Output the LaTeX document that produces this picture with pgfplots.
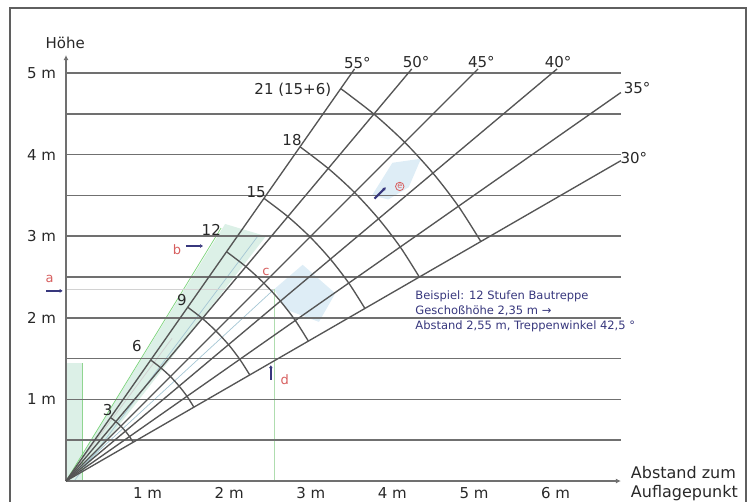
\documentclass[border=0pt]{standalone}
\usepackage{pgfplots}
\pgfplotsset{compat=1.18}
\usepackage{fontspec}
\setmainfont{DejaVu Sans}
\usetikzlibrary{arrows.meta}
\definecolor{gridc}{RGB}{112,112,112}
\definecolor{rayc}{RGB}{85,85,85}
\definecolor{txt}{RGB}{40,40,40}
\definecolor{navy}{RGB}{55,55,125}
\definecolor{redl}{RGB}{215,95,95}
\definecolor{greenl}{RGB}{220,240,231}
\definecolor{bluel}{RGB}{222,237,246}
\definecolor{framec}{RGB}{95,95,95}
\begin{document}
\begin{tikzpicture}
\begin{axis}[scale only axis, width=752pt, height=502pt,
  xmin=-0.809, xmax=8.407, ymin=-0.257, ymax=5.895,
  axis lines=none, clip=false]
\coordinate (SW) at (rel axis cs:0,0);
\coordinate (NE) at (rel axis cs:1,1);
% frame
\addplot[framec, line width=1.2pt] coordinates {(-0.686,-0.4) (-0.686,5.797) (8.333,5.797) (8.333,-0.4)};
% light shadings
\addplot[fill=greenl, draw=none] coordinates {(0,0) (1.95,3.15) (2.45,3.0) (0.12,0)} -- cycle;
\addplot[fill=greenl, draw=none] coordinates {(0,0) (0,1.45) (0.2,1.45) (0.2,0)} -- cycle;
\addplot[fill=bluel, draw=none] coordinates {(2.55,2.35) (2.9,2.65) (3.3,2.3) (3.1,1.95) (2.7,2.1)} -- cycle;
\addplot[fill=bluel, draw=none] coordinates {(3.75,3.5) (4.0,3.9) (4.35,3.95) (4.2,3.6) (3.95,3.45)} -- cycle;
% faint helper lines
\addplot[green!45!gray!60, line width=0.8pt] coordinates {(0.2,0) (0.2,1.45)};
\addplot[green!50!gray!70, line width=0.7pt] coordinates {(0,0) (1.9,3.1)};
\addplot[cyan!40!gray!60, line width=0.7pt] coordinates {(0.1,0) (2.35,3.0)};
\addplot[cyan!40!gray!60, line width=0.7pt] coordinates {(0,0) (2.55,2.35)};
\addplot[gray!35, line width=0.8pt] coordinates {(0,0) (1.3,1.75)};
\addplot[green!40!gray!45, line width=0.8pt] coordinates {(2.55,0) (2.55,2.35)};
\addplot[gray!35, line width=0.8pt] coordinates {(0,2.35) (2.55,2.35)};
% horizontal lines
\addplot[gridc, line width=1.5pt] coordinates {(0,0.5) (6.8,0.5)};
\addplot[gridc, line width=1.5pt] coordinates {(0,1.0) (6.8,1.0)};
\addplot[gridc, line width=1.5pt] coordinates {(0,1.5) (6.8,1.5)};
\addplot[gridc, line width=1.5pt] coordinates {(0,2.0) (6.8,2.0)};
\addplot[gridc, line width=1.5pt] coordinates {(0,2.5) (6.8,2.5)};
\addplot[gridc, line width=1.5pt] coordinates {(0,3.0) (6.8,3.0)};
\addplot[gridc, line width=1.5pt] coordinates {(0,3.5) (6.8,3.5)};
\addplot[gridc, line width=1.5pt] coordinates {(0,4.0) (6.8,4.0)};
\addplot[gridc, line width=1.5pt] coordinates {(0,4.5) (6.8,4.5)};
\addplot[gridc, line width=1.5pt] coordinates {(0,5.0) (6.8,5.0)};
% axes
\addplot[gridc, line width=1.5pt, -{Latex[length=5pt,width=5pt]}] coordinates {(0,0) (6.8,0)};
\addplot[gridc, line width=1.2pt, -{Latex[length=5pt,width=5pt]}] coordinates {(0,0) (0,5.22)};
% rays
\addplot[rayc, line width=1.35pt] coordinates {(0,0) (3.536,5.05)};
\addplot[rayc, line width=1.35pt] coordinates {(0,0) (4.237,5.05)};
\addplot[rayc, line width=1.35pt] coordinates {(0,0) (5.05,5.05)};
\addplot[rayc, line width=1.35pt] coordinates {(0,0) (6.018,5.05)};
\addplot[rayc, line width=1.35pt] coordinates {(0,0) (6.8,4.761)};
\addplot[rayc, line width=1.35pt] coordinates {(0,0) (6.8,3.926)};
% arcs (steps)
\addplot[rayc, line width=1.35pt, smooth] coordinates {(0.823,0.475) (0.778,0.545) (0.728,0.611) (0.672,0.672) (0.611,0.728) (0.545,0.778)};
\addplot[rayc, line width=1.35pt, smooth] coordinates {(1.567,0.905) (1.483,1.038) (1.386,1.163) (1.280,1.280) (1.163,1.386) (1.038,1.483)};
\addplot[rayc, line width=1.35pt, smooth] coordinates {(2.252,1.3) (2.130,1.491) (1.992,1.671) (1.838,1.838) (1.671,1.992) (1.491,2.130)};
\addplot[rayc, line width=1.35pt, smooth] coordinates {(2.970,1.715) (2.810,1.967) (2.627,2.205) (2.425,2.425) (2.205,2.627) (1.967,2.810)};
\addplot[rayc, line width=1.35pt, smooth] coordinates {(3.663,2.115) (3.465,2.426) (3.240,2.719) (2.991,2.991) (2.719,3.240) (2.426,3.465)};
\addplot[rayc, line width=1.35pt, smooth] coordinates {(4.330,2.5) (4.096,2.868) (3.830,3.214) (3.536,3.536) (3.214,3.830) (2.868,4.096)};
\addplot[rayc, line width=1.35pt, smooth] coordinates {(5.084,2.935) (4.809,3.367) (4.497,3.773) (4.151,4.151) (3.773,4.497) (3.367,4.809)};
% annotation arrows
\addplot[navy, line width=2pt, -{Latex[length=3pt,width=4pt]}] coordinates {(-0.24,2.33) (-0.04,2.33)};
\addplot[navy, line width=2pt, -{Latex[length=3pt,width=4pt]}] coordinates {(1.47,2.88) (1.68,2.88)};
\addplot[navy, line width=2pt, -{Latex[length=3pt,width=4pt]}] coordinates {(2.51,1.24) (2.51,1.42)};
\addplot[navy, line width=2pt, -{Latex[length=3pt,width=4pt]}] coordinates {(3.78,3.46) (3.92,3.60)};
% letters
\node[text=redl, font=\fontsize{13}{15}\selectfont] at (axis cs:-0.20,2.48) {a};
\node[text=redl, font=\fontsize{13}{15}\selectfont] at (axis cs:1.36,2.83) {b};
\node[text=redl, font=\fontsize{13}{15}\selectfont] at (axis cs:2.45,2.56) {c};
\node[text=redl, font=\fontsize{13}{15}\selectfont] at (axis cs:2.68,1.24) {d};
\node[circle, draw=redl, line width=0.8pt, text=redl, inner sep=0.6pt, font=\fontsize{8}{9}\selectfont] at (axis cs:4.09,3.61) {e};
% tick labels
\node[text=txt, anchor=east, font=\fontsize{15}{17}\selectfont] at (axis cs:-0.08,1) {1 m};
\node[text=txt, anchor=east, font=\fontsize{15}{17}\selectfont] at (axis cs:-0.08,2) {2 m};
\node[text=txt, anchor=east, font=\fontsize{15}{17}\selectfont] at (axis cs:-0.08,3) {3 m};
\node[text=txt, anchor=east, font=\fontsize{15}{17}\selectfont] at (axis cs:-0.08,4) {4 m};
\node[text=txt, anchor=east, font=\fontsize{15}{17}\selectfont] at (axis cs:-0.08,5) {5 m};
\node[text=txt, font=\fontsize{15}{17}\selectfont] at (axis cs:1,-0.15) {1 m};
\node[text=txt, font=\fontsize{15}{17}\selectfont] at (axis cs:2,-0.15) {2 m};
\node[text=txt, font=\fontsize{15}{17}\selectfont] at (axis cs:3,-0.15) {3 m};
\node[text=txt, font=\fontsize{15}{17}\selectfont] at (axis cs:4,-0.15) {4 m};
\node[text=txt, font=\fontsize{15}{17}\selectfont] at (axis cs:5,-0.15) {5 m};
\node[text=txt, font=\fontsize{15}{17}\selectfont] at (axis cs:6,-0.15) {6 m};
\node[text=txt, font=\fontsize{15}{17}\selectfont] at (axis cs:-0.01,5.37) {Höhe};
\node[text=txt, anchor=west, font=\fontsize{16}{18}\selectfont] at (axis cs:6.88,0.10) {Abstand zum};
\node[text=txt, anchor=west, font=\fontsize{16}{18}\selectfont] at (axis cs:6.88,-0.15) {Auflagepunkt};
% angle labels
\node[text=txt, font=\fontsize{15}{17}\selectfont] at (axis cs:3.57,5.12) {55°};
\node[text=txt, font=\fontsize{15}{17}\selectfont] at (axis cs:4.29,5.14) {50°};
\node[text=txt, font=\fontsize{15}{17}\selectfont] at (axis cs:5.09,5.14) {45°};
\node[text=txt, font=\fontsize{15}{17}\selectfont] at (axis cs:6.03,5.14) {40°};
\node[text=txt, font=\fontsize{15}{17}\selectfont] at (axis cs:7.0,4.82) {35°};
\node[text=txt, font=\fontsize{15}{17}\selectfont] at (axis cs:6.96,3.96) {30°};
% step labels
\node[text=txt, font=\fontsize{15}{17}\selectfont] at (axis cs:0.51,0.87) {3};
\node[text=txt, font=\fontsize{15}{17}\selectfont] at (axis cs:0.87,1.65) {6};
\node[text=txt, font=\fontsize{15}{17}\selectfont] at (axis cs:1.42,2.22) {9};
\node[text=txt, font=\fontsize{15}{17}\selectfont] at (axis cs:1.78,3.08) {12};
\node[text=txt, font=\fontsize{15}{17}\selectfont] at (axis cs:2.33,3.54) {15};
\node[text=txt, font=\fontsize{15}{17}\selectfont] at (axis cs:2.77,4.18) {18};
\node[text=txt, font=\fontsize{15}{17}\selectfont] at (axis cs:2.78,4.80) {21 (15+6)};
% example text
\node[text=navy, anchor=north west, align=left, inner sep=0pt, font=\fontsize{11.5}{15}\selectfont] at (axis cs:4.28,2.33) {Beispiel: 12 Stufen Bautreppe\\Geschoßhöhe 2,35 m →\\Abstand 2,55 m, Treppenwinkel 42,5 °};
\end{axis}
\pgfresetboundingbox
\path (SW) rectangle (NE);
\end{tikzpicture}
\end{document}
